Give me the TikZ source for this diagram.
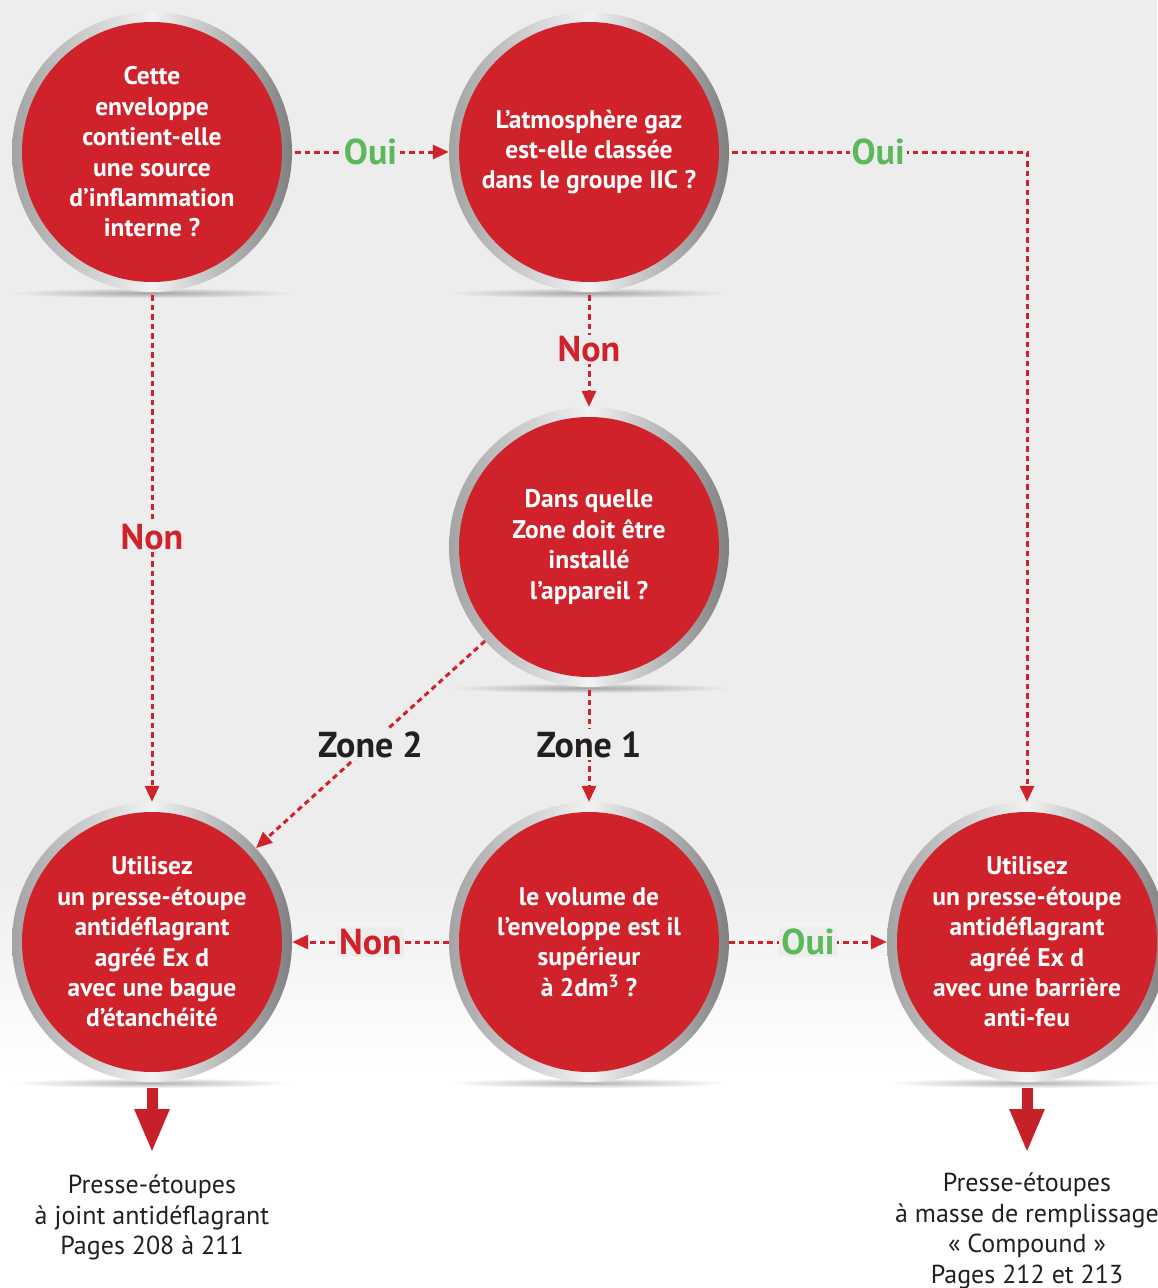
\documentclass[tikz,border=0pt]{standalone}
\usepackage{fontspec}
\setmainfont{PT Sans}
\usetikzlibrary{arrows.meta,fadings}
\definecolor{rougeEx}{HTML}{D0222B}
\definecolor{vertOui}{HTML}{5DB85B}
\definecolor{texteGris}{HTML}{231F20}
\definecolor{fond}{HTML}{EDEDED}
\tikzfading[name=ombrefloue, inner color=transparent!0, outer color=transparent!100]
\tikzset{bulle/.style={circle, minimum size=280pt, inner sep=0pt, left color=black!36, right color=black!50, middle color=white!95!black,
   path picture={\fill[rougeEx] (path picture bounding box.center) circle (130pt);},
   text=white, font=\fontsize{25.5}{30.4}\selectfont\bfseries, align=center}}
\tikzset{lien/.style={rougeEx, line width=3pt, dash pattern=on 5.5pt off 4pt, -{Triangle[length=16pt,width=14pt]}},
   reponse/.style={fill=fond, inner sep=2pt, font=\fontsize{36}{36}\selectfont\bfseries},
   grosse/.style={rougeEx!95!black, line width=11pt, -{Triangle[length=44pt,width=32pt]}},
   resultat/.style={text=texteGris, font=\fontsize{26}{30.4}\selectfont, align=center, inner sep=0pt}}

\begin{document}
\begin{tikzpicture}[x=1pt,y=-1pt]
   \useasboundingbox (0,0) rectangle (1157,1288);
   % fond
   \fill[fond] (0,0) rectangle (1157,872);
   \shade[top color=fond, bottom color=white] (0,870) rectangle (1157,1072);
   \fill[white] (0,1070) rectangle (1157,1288);
   \foreach \x/\y in {152/152, 589/152, 589/547, 152/942, 589/942, 1027/942}
     \fill[black, opacity=0.3, path fading=ombrefloue] (\x,\y+141) ellipse (140pt and 5pt);

   \node[bulle] (q1) at (152,152) {Cette\\enveloppe\\contient-elle\\une source\\d’inflammation\\interne ?};
   \node[bulle] (q2) at (589,152) {L’atmosphère gaz\\est-elle classée\\dans le groupe IIC ?};
   \node[bulle] (q3) at (589,547) {Dans quelle\\Zone doit être\\installé\\l’appareil ?};
   \node[bulle] (q4) at (589,942) {le volume de\\l’enveloppe est il\\supérieur\\à 2dm\textsuperscript{3} ?};
   \node[bulle] (u1) at (152,942) {Utilisez\\un presse-étoupe\\antidéflagrant\\agréé Ex d\\avec une bague\\d’étanchéité};
   \node[bulle] (u2) at (1027,942) {Utilisez\\un presse-étoupe\\antidéflagrant\\agréé Ex d\\avec une barrière\\anti-feu};

   \draw[lien, shorten <=3pt] (q1) -- node[reponse, text=vertOui] {Oui} (q2);
   \draw[lien, shorten <=3pt] (q2) -| node[reponse, text=vertOui, pos=0.25] {Oui} (u2);
   \draw[lien, shorten <=3pt] (q2) -- node[reponse, text=rougeEx] {Non} (q3);
   \draw[lien, shorten <=3pt] (q1) -- node[reponse, text=rougeEx, pos=0.48] {Non} (u1);
   \draw[lien] (q3) -- node[reponse, text=texteGris] {Zone 2} (u1);
   \draw[lien, shorten <=3pt] (q3) -- node[reponse, text=texteGris] {Zone 1} (q4);
   \draw[lien] (q4) -- node[reponse, text=rougeEx] {Non} (u1);
   \draw[lien] (q4) -- node[reponse, text=vertOui] {Oui} (u2);

   \node[resultat, anchor=north] (r1) at (152,1175) {Presse-étoupes\\à joint antidéflagrant\\Pages 208 à 211};
   \node[resultat, anchor=north] (r2) at (1027,1173) {Presse-étoupes\\à masse de remplissage\\« Compound »\\Pages 212 et 213};
   \draw[grosse] ([yshift=-6pt]u1.south) -- ([yshift=22pt]r1.north);
   \draw[grosse] ([yshift=-6pt]u2.south) -- ([yshift=20pt]r2.north);
\end{tikzpicture}
\end{document}
